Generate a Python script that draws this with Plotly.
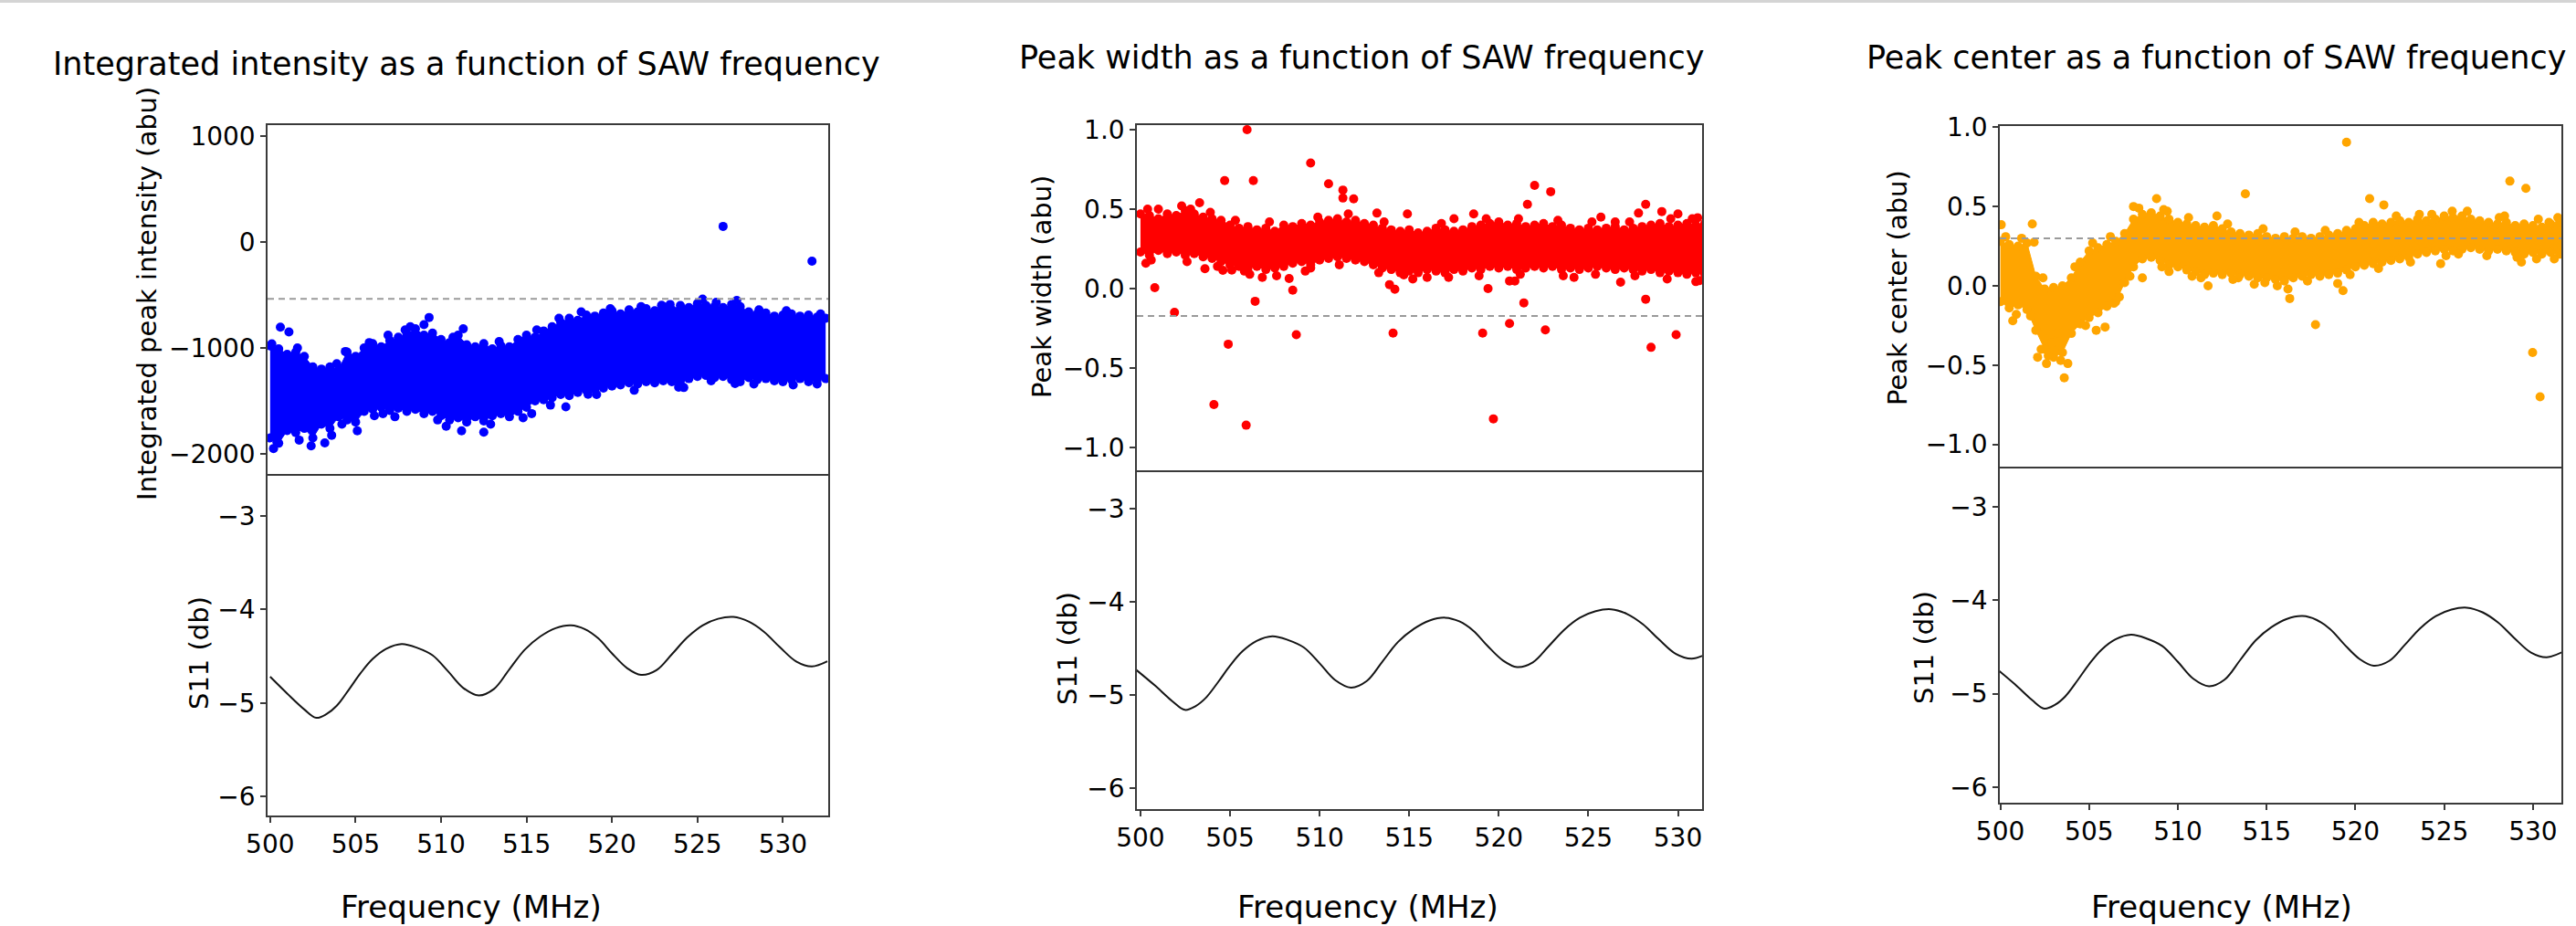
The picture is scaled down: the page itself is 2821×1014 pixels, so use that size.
import plotly.graph_objects as go

W, H = 2821, 1014

# frequency sweep of the fitted peaks (MHz)
freq = [500.0, 500.5, 501.0, 501.5, 502.0, 502.5, 503.0, 503.5, 504.0, 504.5,
        505.0, 505.5, 506.0, 506.5, 507.0, 507.5, 508.0, 508.5, 509.0, 509.5,
        510.0, 510.5, 511.0, 511.5, 512.0, 512.5, 513.0, 513.5, 514.0, 514.5,
        515.0, 515.5, 516.0, 516.5, 517.0, 517.5, 518.0, 518.5, 519.0, 519.5,
        520.0, 520.5, 521.0, 521.5, 522.0, 522.5, 523.0, 523.5, 524.0, 524.5,
        525.0, 525.5, 526.0, 526.5, 527.0, 527.5, 528.0, 528.5, 529.0, 529.5,
        530.0, 530.5, 531.0, 531.5, 532.0, 532.5]

# integrated intensity: upper / lower edge of the dense cloud, plus scattered points
int_top = [-980, -1010, -1060, -1040, -1080, -1180, -1200, -1180, -1210, -1040,
           -1080, -1000, -960, -990, -930, -900, -870, -820, -880, -860,
           -920, -950, -880, -970, -990, -960, -1010, -980, -990, -920,
           -880, -900, -840, -800, -760, -720, -740, -690, -700, -670,
           -650, -680, -640, -660, -630, -650, -610, -640, -600, -620,
           -580, -600, -610, -620, -590, -610, -660, -680, -670, -700,
           -690, -680, -700, -690, -710, -720]
int_bot = [-1850, -1900, -1780, -1800, -1760, -1850, -1720, -1760, -1650, -1680,
           -1700, -1600, -1580, -1560, -1590, -1570, -1600, -1580, -1620, -1600,
           -1640, -1680, -1660, -1700, -1650, -1690, -1640, -1620, -1650, -1600,
           -1560, -1500, -1490, -1470, -1440, -1450, -1420, -1400, -1390, -1380,
           -1360, -1350, -1330, -1340, -1320, -1330, -1310, -1320, -1340, -1290,
           -1270, -1260, -1280, -1270, -1300, -1320, -1280, -1300, -1290, -1310,
           -1320, -1300, -1290, -1320, -1300, -1290]
int_out_x = [500.2, 500.4, 500.6, 501.1, 502.4, 503.2, 503.6, 505.1, 508.2, 509.3,
             511.3, 510.3, 511.2, 512.5, 517.3, 518.6, 526.5, 531.7, 525.3, 527.3,
             522.9, 514.8, 500.1, 506.6, 524.2, 527.2, 504.4,
             501.6, 503.9, 505.8, 506.9, 507.9, 509.0, 510.7, 513.4, 515.6, 516.9,
             518.2, 519.9, 521.7, 523.4, 526.1, 528.6, 530.2, 532.2,
             501.7, 504.2, 506.1, 507.3, 509.8, 512.9, 515.3, 516.4, 519.1, 521.3,
             523.9, 525.8, 528.3, 530.6, 532.0]
int_out_y = [-1950, -1890, -805, -850, -1925, -1897, -1825, -1782, -800, -713,
             -819, -1739, -1782, -1796, -1557, -1437, 147, -181, -540, -552,
             -598, -1660, -962, -1620, -1374, -1336, -1034,
             -1000, -1150, -950, -880, -830, -780, -900, -940, -830, -720,
             -660, -630, -610, -590, -570, -640, -650, -680,
             -1870, -1720, -1640, -1650, -1680, -1720, -1620, -1540, -1440, -1400,
             -1370, -1310, -1340, -1350, -1340]

# peak width
pw_top = [0.47, 0.46, 0.44, 0.47, 0.46, 0.49, 0.47, 0.45, 0.44, 0.43,
          0.40, 0.38, 0.39, 0.37, 0.38, 0.36, 0.40, 0.39, 0.41, 0.40,
          0.42, 0.43, 0.44, 0.42, 0.43, 0.41, 0.40, 0.38, 0.37, 0.36,
          0.37, 0.35, 0.36, 0.38, 0.37, 0.36, 0.37, 0.39, 0.40, 0.41,
          0.42, 0.40, 0.41, 0.39, 0.40, 0.41, 0.39, 0.40, 0.38, 0.37,
          0.38, 0.37, 0.38, 0.39, 0.37, 0.38, 0.39, 0.40, 0.41, 0.39,
          0.40, 0.41, 0.40, 0.41, 0.40, 0.40]
pw_bot = [0.23, 0.21, 0.24, 0.22, 0.23, 0.21, 0.22, 0.20, 0.19, 0.17,
          0.15, 0.14, 0.13, 0.14, 0.12, 0.13, 0.14, 0.16, 0.17, 0.15,
          0.18, 0.19, 0.20, 0.19, 0.18, 0.17, 0.15, 0.13, 0.12, 0.10,
          0.11, 0.10, 0.12, 0.11, 0.10, 0.12, 0.11, 0.13, 0.12, 0.14,
          0.13, 0.14, 0.12, 0.13, 0.14, 0.13, 0.14, 0.12, 0.13, 0.12,
          0.13, 0.14, 0.13, 0.12, 0.13, 0.12, 0.11, 0.12, 0.10, 0.11,
          0.10, 0.09, 0.10, 0.09, 0.10, 0.10]
pw_out_x = [500.3, 500.8, 501.9, 503.3, 503.6, 504.1, 504.7, 504.6, 504.9, 505.1,
            505.95, 506.3, 505.9, 506.4, 505.8, 506.8, 508.3, 508.5, 508.7, 509.5,
            509.5, 510.5, 511.3, 511.3, 511.9, 513.2, 513.9, 514.2, 514.1, 514.9,
            514.7, 518.6, 519.4, 519.1, 519.7, 520.6, 520.9, 520.6, 521.4, 521.6,
            522.0, 522.6, 522.9, 526.5, 526.8, 527.8, 528.2, 528.2, 528.5, 529.1,
            530.0, 529.9, 531.1, 531.0, 502.8, 501.0, 516.0, 517.5, 524.2, 525.7,
            500.4, 502.3, 503.9, 505.3, 507.2, 509.9, 511.6, 513.6, 516.8, 519.3,
            521.1, 523.3, 525.2, 527.3, 529.6, 530.8,
            500.6, 502.6, 504.3, 506.1, 507.6, 509.2, 511.1, 513.3, 515.2, 517.2,
            518.9, 521.2, 523.6, 525.4, 527.6, 529.4, 531.2]
pw_out_y = [0.16, 0.006, -0.15, 0.54, 0.125, -0.73, 0.68, 0.115, -0.35, 0.117,
            1.0, 0.68, -0.86, -0.08, 0.11, 0.07, 0.063, -0.01, -0.29, 0.79,
            0.13, 0.66, 0.62, 0.57, 0.565, 0.475, 0.025, -0.004, -0.28, 0.47,
            0.086, 0.47, 0.0, -0.28, -0.82, 0.048, 0.048, -0.22, -0.09, 0.53,
            0.65, -0.26, 0.61, 0.42, 0.04, 0.475, 0.53, -0.067, -0.37, 0.485,
            0.47, -0.29, 0.446, 0.044, 0.50, 0.50, 0.07, 0.44, 0.07, 0.45,
            0.50, 0.52, 0.48, 0.43, 0.42, 0.45, 0.47, 0.42, 0.41, 0.44,
            0.44, 0.43, 0.42, 0.42, 0.44, 0.44,
            0.18, 0.17, 0.14, 0.09, 0.08, 0.11, 0.15, 0.10, 0.06, 0.07,
            0.08, 0.09, 0.08, 0.09, 0.08, 0.06, 0.05]

# peak center
pc_top = [0.28, 0.26, 0.25, 0.27, 0.06, -0.02, -0.01, 0.00, 0.05, 0.15,
          0.22, 0.24, 0.26, 0.28, 0.33, 0.42, 0.45, 0.46, 0.44, 0.42,
          0.40, 0.39, 0.38, 0.37, 0.38, 0.36, 0.34, 0.33, 0.32, 0.33,
          0.31, 0.30, 0.31, 0.30, 0.31, 0.30, 0.31, 0.32, 0.33, 0.35,
          0.36, 0.38, 0.40, 0.39, 0.40, 0.41, 0.40, 0.42, 0.41, 0.42,
          0.44, 0.43, 0.44, 0.42, 0.41, 0.40, 0.39, 0.40, 0.38, 0.39,
          0.38, 0.37, 0.39, 0.40, 0.40, 0.40]
pc_bot = [-0.10, -0.14, -0.12, -0.15, -0.28, -0.40, -0.45, -0.42, -0.30, -0.24,
          -0.20, -0.17, -0.13, -0.10, 0.02, 0.12, 0.17, 0.18, 0.16, 0.13,
          0.12, 0.10, 0.09, 0.07, 0.08, 0.07, 0.08, 0.07, 0.06, 0.05,
          0.05, 0.04, 0.03, 0.05, 0.06, 0.07, 0.06, 0.07, 0.08, 0.10,
          0.12, 0.13, 0.14, 0.15, 0.16, 0.17, 0.18, 0.20, 0.21, 0.22,
          0.23, 0.22, 0.23, 0.24, 0.23, 0.22, 0.23, 0.22, 0.21, 0.20,
          0.21, 0.20, 0.21, 0.20, 0.20, 0.20]
pc_out_x = [500.05, 501.8, 501.9, 500.7, 502.1, 502.6, 503.6, 503.8, 505.4, 505.9,
            506.4, 507.5, 508.8, 508.0, 509.4, 509.5, 510.8, 511.7, 512.2, 513.4,
            513.8, 514.3, 515.6, 516.2, 516.3, 517.75, 519.0, 519.3, 519.5, 520.8,
            521.6, 523.6, 524.8, 525.45, 525.8, 528.4, 528.7, 529.6, 529.35, 530.2,
            529.98, 530.4, 530.9, 502.9, 503.2, 502.3,
            500.3, 501.2, 502.4, 504.2, 505.2, 506.2, 507.8, 509.2, 510.6, 512.8,
            514.8, 516.6, 518.3, 520.2, 522.3, 524.3, 526.3, 528.1, 530.3, 531.4,
            500.9, 501.7, 502.7, 503.4, 504.8, 506.7, 507.3, 509.1, 511.3, 513.1,
            514.9, 517.3, 519.7, 521.3, 523.1, 525.1, 527.4, 529.1, 531.2]
pc_out_y = [0.385, 0.39, 0.275, -0.22, -0.45, -0.49, -0.58, -0.49, -0.28, -0.26,
            -0.11, 0.50, 0.55, 0.05, 0.47, 0.09, 0.06, 0.0, 0.44, 0.05,
            0.58, 0.01, 0.0, -0.02, -0.08, -0.245, 0.015, -0.03, 0.905, 0.55,
            0.51, 0.45, 0.14, 0.47, 0.20, 0.44, 0.66, 0.615, 0.15, 0.17,
            -0.42, -0.70, 0.40, -0.36, -0.30, -0.40,
            0.31, 0.30, 0.05, 0.12, 0.27, 0.31, 0.49, 0.48, 0.43, 0.39,
            0.36, 0.34, 0.35, 0.40, 0.44, 0.45, 0.47, 0.43, 0.42, 0.43,
            -0.18, -0.19, -0.44, -0.47, -0.25, -0.07, 0.06, 0.12, 0.05, 0.04,
            0.02, 0.03, 0.07, 0.11, 0.15, 0.19, 0.19, 0.18, 0.17]

# reference levels (dashed lines)
int_ref = -537
pw_ref = -0.172
pc_ref = 0.30

# S11 reflection (dB); frequency axis as drawn under each panel
s11_db = [-4.72, -4.90, -5.07, -5.16, -5.12, -5.03, -4.86, -4.68, -4.53, -4.42,
          -4.37, -4.41, -4.49, -4.66, -4.84, -4.92, -4.85, -4.64, -4.43, -4.29,
          -4.20, -4.17, -4.21, -4.31, -4.47, -4.63, -4.70, -4.65, -4.48, -4.30,
          -4.17, -4.10, -4.08, -4.13, -4.24, -4.40, -4.56, -4.61, -4.555]
s11_freq_int = [500.0, 501.0, 502.0, 502.7, 503.3, 503.9, 504.6, 505.3, 506.0, 506.8,
                507.7, 508.6, 509.5, 510.4, 511.3, 512.2, 513.1, 514.0, 514.9, 515.8,
                516.7, 517.6, 518.4, 519.2, 520.0, 520.9, 521.7, 522.6, 523.5, 524.4,
                525.3, 526.2, 527.1, 528.0, 528.9, 529.8, 530.8, 531.7, 532.6]
s11_freq = [499.7, 500.82, 501.80, 502.48, 503.07, 503.65, 504.34, 505.02, 505.70, 506.48,
            507.36, 508.24, 509.12, 510.00, 510.87, 511.75, 512.63, 513.51, 514.38, 515.26,
            516.14, 517.02, 517.80, 518.58, 519.36, 520.24, 521.02, 521.90, 522.77, 523.65,
            524.53, 525.41, 526.28, 527.16, 528.04, 528.92, 529.89, 530.77, 531.65]

x_ticks = [500, 505, 510, 515, 520, 525, 530]
x_tick_text = ['500', '505', '510', '515', '520', '525', '530']
int_ticks = [1000, 0, -1000, -2000]
int_tick_text = ['1000', '0', '\u22121000', '\u22122000']
abu_ticks = [1.0, 0.5, 0.0, -0.5, -1.0]
abu_tick_text = ['1.0', '0.5', '0.0', '\u22120.5', '\u22121.0']
s11_ticks = [-3, -4, -5, -6]
s11_tick_text = ['\u22123', '\u22124', '\u22125', '\u22126']

FONT = 'DejaVu Sans'
FRAME = '#3a3a3a'


def px_x(p):
    return p / W


def px_y(p):
    return 1 - p / H


def ax(letter, n):
    return letter if n == 1 else '%s%d' % (letter, n)


panels = [
    dict(color='#0000ff', top=int_top, bot=int_bot, ox=int_out_x, oy=int_out_y, ref=int_ref,
         xr=[499.85, 532.65], left=293, right=907, ytop=137, ymid=519, ybot=893,
         yr_top=[-2190, 1103], yr_bot=[-6.205, -2.55], ticks=int_ticks, ticktext=int_tick_text,
         s11x=s11_freq_int,
         title='Integrated intensity as a function of SAW frequency', tx=511, ty=70,
         ylab='Integrated peak intensity (abu)', ylx=161, yly=322, slx=218, sly=715, xlx=516),
    dict(color='#ff0000', top=pw_top, bot=pw_bot, ox=pw_out_x, oy=pw_out_y, ref=pw_ref,
         xr=[499.8, 531.35], left=1245, right=1864, ytop=137, ymid=515, ybot=886,
         yr_top=[-1.144, 1.029], yr_bot=[-6.225, -2.588], ticks=abu_ticks, ticktext=abu_tick_text,
         s11x=s11_freq,
         title='Peak width as a function of SAW frequency', tx=1491, ty=63,
         ylab='Peak width (abu)', ylx=1141, yly=314, slx=1169, sly=710, xlx=1498),
    dict(color='#ffa500', top=pc_top, bot=pc_bot, ox=pc_out_x, oy=pc_out_y, ref=pc_ref,
         xr=[499.97, 531.6], left=2190, right=2805, ytop=138, ymid=511, ybot=879,
         yr_top=[-1.14, 1.0075], yr_bot=[-6.166, -2.572], ticks=abu_ticks, ticktext=abu_tick_text,
         s11x=s11_freq,
         title='Peak center as a function of SAW frequency', tx=2427, ty=63,
         ylab='Peak center (abu)', ylx=2078, yly=315, slx=2107, sly=709, xlx=2433),
]

fig = go.Figure()
layout = dict(width=W, height=H, template='none',
              margin=dict(l=0, r=0, t=0, b=0, pad=0, autoexpand=False),
              paper_bgcolor='white', plot_bgcolor='white', showlegend=False,
              font=dict(family=FONT, color='black'))
shapes = [dict(type='rect', xref='paper', yref='paper', x0=0, x1=1, y0=px_y(3), y1=1,
               fillcolor='#d4d4d4', line=dict(width=0))]
annotations = []

axis_common = dict(showline=True, mirror=True, linecolor=FRAME, linewidth=1.5,
                   showgrid=False, zeroline=False, automargin=False,
                   tickfont=dict(family=FONT, size=28, color='black'))

for i, p in enumerate(panels):
    nt, nb = 2 * i + 1, 2 * i + 2
    xt, yt = ax('x', nt), ax('y', nt)
    xb, yb = ax('x', nb), ax('y', nb)
    c = p['color']
    mk = dict(color=c, size=10)
    edge = dict(color=c, width=1)

    # dense part of the cloud: lower and upper edges with the gap filled in
    fig.add_trace(go.Scatter(x=freq, y=p['bot'], mode='lines+markers', marker=mk, line=edge,
                             xaxis=xt, yaxis=yt, hoverinfo='skip'))
    fig.add_trace(go.Scatter(x=freq, y=p['top'], mode='lines+markers', marker=mk, line=edge,
                             fill='tonexty', fillcolor=c,
                             xaxis=xt, yaxis=yt, hoverinfo='skip'))
    fig.add_trace(go.Scatter(x=p['ox'], y=p['oy'], mode='markers', marker=mk,
                             xaxis=xt, yaxis=yt))
    fig.add_trace(go.Scatter(x=p['s11x'], y=s11_db, mode='lines',
                             line=dict(color='#151515', width=2, shape='spline'),
                             xaxis=xb, yaxis=yb))

    xdom = [px_x(p['left']), px_x(p['right'])]
    layout[ax('xaxis', nt)] = dict(axis_common, domain=xdom, range=p['xr'], anchor=yt,
                                   showticklabels=False, ticks='')
    layout[ax('yaxis', nt)] = dict(axis_common, domain=[px_y(p['ymid']), px_y(p['ytop'])],
                                   range=p['yr_top'], anchor=xt, tickvals=p['ticks'],
                                   ticktext=p['ticktext'], ticks='outside', ticklen=6,
                                   tickwidth=1.5, tickcolor=FRAME)
    # the shared boundary line is drawn once, by the upper axes
    layout[ax('xaxis', nb)] = dict(axis_common, mirror=False, domain=xdom, range=p['xr'],
                                   anchor=yb, tickvals=x_ticks, ticktext=x_tick_text,
                                   ticks='outside', ticklen=6, tickwidth=1.5, tickcolor=FRAME)
    layout[ax('yaxis', nb)] = dict(axis_common, domain=[px_y(p['ybot']), px_y(p['ymid'])],
                                   range=p['yr_bot'], anchor=xb, tickvals=s11_ticks,
                                   ticktext=s11_tick_text, ticks='outside', ticklen=6,
                                   tickwidth=1.5, tickcolor=FRAME)

    shapes.append(dict(type='line', xref='%s domain' % xt, yref=yt, x0=0, x1=1,
                       y0=p['ref'], y1=p['ref'], layer='above',
                       line=dict(color='#9a9a9a', width=2, dash='7px,5px')))

    annotations.append(dict(text=p['title'], xref='paper', yref='paper',
                            x=px_x(p['tx']), y=px_y(p['ty']), xanchor='center', yanchor='middle',
                            showarrow=False, font=dict(family=FONT, size=35, color='black')))
    annotations.append(dict(text=p['ylab'], xref='paper', yref='paper', textangle=-90,
                            x=px_x(p['ylx']), y=px_y(p['yly']), xanchor='center', yanchor='middle',
                            showarrow=False, font=dict(family=FONT, size=29, color='black')))
    annotations.append(dict(text='S11 (db)', xref='paper', yref='paper', textangle=-90,
                            x=px_x(p['slx']), y=px_y(p['sly']), xanchor='center', yanchor='middle',
                            showarrow=False, font=dict(family=FONT, size=29, color='black')))
    annotations.append(dict(text='Frequency (MHz)', xref='paper', yref='paper',
                            x=px_x(p['xlx']), y=px_y(993), xanchor='center', yanchor='middle',
                            showarrow=False, font=dict(family=FONT, size=34, color='black')))

layout['shapes'] = shapes
layout['annotations'] = annotations
fig.update_layout(**layout)

fig.write_html("out.html", config={'displayModeBar': False},
               post_script="document.body.style.margin='0px';")
